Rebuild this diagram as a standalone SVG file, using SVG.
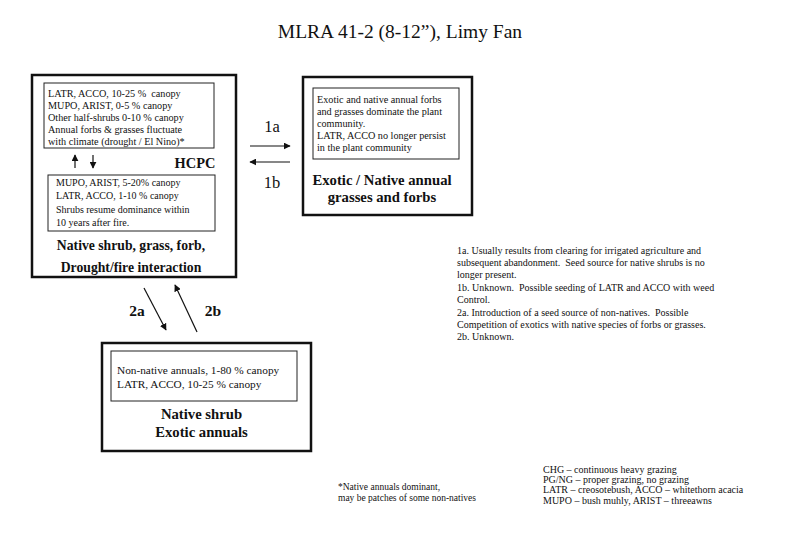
<svg xmlns="http://www.w3.org/2000/svg" width="800" height="536" viewBox="0 0 800 536">
<defs>
<marker id="ah" viewBox="0 0 10 10" refX="9" refY="5" markerWidth="7" markerHeight="7" markerUnits="userSpaceOnUse" orient="auto">
<path d="M0,0 L10,5 L0,10 z" fill="#111"/>
</marker>
</defs>
<style>
.t{font-family:"Liberation Serif","Times New Roman",serif;fill:#111;white-space:pre}
.s{font-size:10.2px}
.b{font-weight:bold}
.outer{fill:none;stroke:#111;stroke-width:2.5}
.inner{fill:none;stroke:#222;stroke-width:1}
.c{stroke:#111;stroke-width:1.2;fill:none;marker-end:url(#ah)}
</style>
<rect width="800" height="536" fill="#fff"/>
<text class="t" x="400" y="38" text-anchor="middle" font-size="19.5">MLRA 41-2 (8-12”), Limy Fan</text>

<g id="hcpc">
<rect class="outer" x="32" y="75" width="204" height="202"/>
<rect class="inner" x="44" y="83" width="170" height="65"/>
<text class="t s" x="48" y="97" xml:space="preserve">LATR, ACCO, 10-25 %  canopy</text>
<text class="t s" x="48" y="109">MUPO, ARIST, 0-5 % canopy</text>
<text class="t s" x="48" y="121">Other half-shrubs 0-10 % canopy</text>
<text class="t s" x="48" y="133">Annual forbs &amp; grasses fluctuate</text>
<text class="t s" x="48" y="145">with climate (drought / El Nino)*</text>
<rect class="inner" x="48" y="175" width="167" height="56"/>
<text class="t" font-size="10" x="56" y="186">MUPO, ARIST, 5-20% canopy</text>
<text class="t" font-size="10" x="56" y="199.3">LATR, ACCO, 1-10 % canopy</text>
<text class="t" font-size="10" x="56" y="212.7">Shrubs resume dominance within</text>
<text class="t" font-size="10" x="56" y="226">10 years after fire.</text>
<text class="t b" x="195" y="168" text-anchor="middle" font-size="14.4">HCPC</text>
<text class="t b" x="131" y="250" text-anchor="middle" font-size="13.7">Native shrub, grass, forb,</text>
<text class="t b" x="131" y="271.5" text-anchor="middle" font-size="13.7">Drought/fire interaction</text>
</g>

<g id="exotic">
<rect class="outer" x="303" y="77" width="169" height="138"/>
<rect class="inner" x="313" y="88" width="146" height="71"/>
<text class="t s" x="317" y="103">Exotic and native annual forbs</text>
<text class="t s" x="317" y="115">and grasses dominate the plant</text>
<text class="t s" x="317" y="127">community.</text>
<text class="t s" x="317" y="139">LATR, ACCO no longer persist</text>
<text class="t s" x="317" y="151">in the plant community</text>
<text class="t b" x="382" y="185" text-anchor="middle" font-size="14.7">Exotic / Native annual</text>
<text class="t b" x="382" y="202" text-anchor="middle" font-size="14.7">grasses and forbs</text>
</g>

<g id="shrub-exotic">
<rect class="outer" x="102" y="343" width="209" height="108"/>
<rect class="inner" x="111" y="351" width="186" height="50"/>
<text class="t" font-size="11.3" x="117" y="374">Non-native annuals, 1-80 % canopy</text>
<text class="t" font-size="11.3" x="117" y="387.5">LATR, ACCO, 10-25 % canopy</text>
<text class="t b" x="201.5" y="418.7" text-anchor="middle" font-size="14.7">Native shrub</text>
<text class="t b" x="201.5" y="437" text-anchor="middle" font-size="14.7">Exotic annuals</text>
</g>

<g id="connectors">
<line class="c" x1="75" y1="168" x2="75" y2="155"/>
<line class="c" x1="93" y1="155" x2="93" y2="168"/>
<line class="c" x1="250" y1="146" x2="290" y2="146"/>
<line class="c" x1="290" y1="162" x2="250" y2="162"/>
<line class="c" x1="144" y1="288" x2="166" y2="330"/>
<line class="c" x1="197" y1="332" x2="175" y2="285"/>
<text class="t" x="272" y="132" text-anchor="middle" font-size="16.5">1a</text>
<text class="t" x="272" y="188" text-anchor="middle" font-size="16.5">1b</text>
<text class="t b" x="137" y="315.5" text-anchor="middle" font-size="15.5">2a</text>
<text class="t b" x="213" y="315.5" text-anchor="middle" font-size="15.5">2b</text>
</g>

<g id="notes">
<text class="t" font-size="10" x="457" y="253.5">1a. Usually results from clearing for irrigated agriculture and</text>
<text class="t" font-size="10" x="457" y="265.9" xml:space="preserve">subsequent abandonment.  Seed source for native shrubs is no</text>
<text class="t" font-size="10" x="457" y="278.3">longer present.</text>
<text class="t" font-size="10" x="457" y="290.7" xml:space="preserve">1b. Unknown.  Possible seeding of LATR and ACCO with weed</text>
<text class="t" font-size="10" x="457" y="303.1">Control.</text>
<text class="t" font-size="10" x="457" y="315.5" xml:space="preserve">2a. Introduction of a seed source of non-natives.  Possible</text>
<text class="t" font-size="10" x="457" y="327.9">Competition of exotics with native species of forbs or grasses.</text>
<text class="t" font-size="10" x="457" y="340.3">2b. Unknown.</text>
</g>

<g id="legend">
<text class="t" font-size="9.5" x="338" y="490">*Native annuals dominant,</text>
<text class="t" font-size="9.5" x="338" y="501">may be patches of some non-natives</text>
<text class="t" font-size="10" x="543" y="472.5">CHG – continuous heavy grazing</text>
<text class="t" font-size="10" x="543" y="483">PG/NG – proper grazing, no grazing</text>
<text class="t" font-size="10" x="543" y="493.3">LATR – creosotebush, ACCO – whitethorn acacia</text>
<text class="t" font-size="10" x="543" y="503.6">MUPO – bush muhly, ARIST – threeawns</text>
</g>
</svg>
